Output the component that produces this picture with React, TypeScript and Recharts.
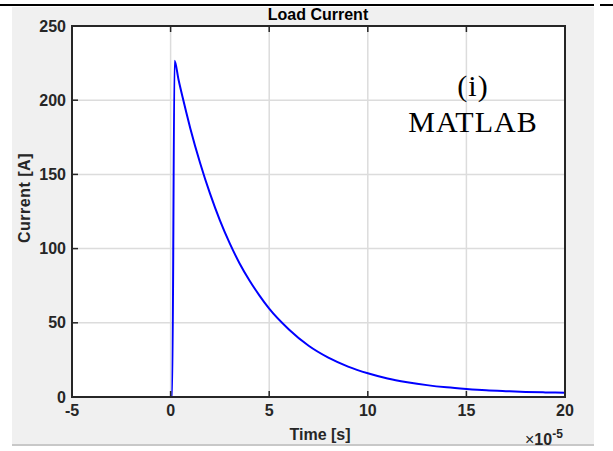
import { LineChart, Line, XAxis, YAxis, CartesianGrid } from 'recharts';

// time in units of 1e-5 s, current in A
const time = [-0.65, 0.08, 0.2, 0.4, 0.6, 0.8, 1.0, 1.5, 2.0, 2.5, 3.0, 3.5, 4.0, 4.5, 5.0, 6.0, 7.0, 8.0, 9.0, 10.0, 11.0, 12.0, 13.0, 14.0, 15.0, 16.0, 17.0, 18.0, 19.0, 20.0];
const current = [0, 0, 226.5, 214, 202.5, 191.5, 181, 157.5, 137, 119, 103.5, 90, 78.5, 68.5, 59.5, 45.5, 34.5, 26.5, 20.5, 16, 12.5, 10, 8, 6.5, 5.4, 4.5, 3.9, 3.4, 3.1, 2.8];
const xTicks = [-5, 0, 5, 10, 15, 20];
const yTicks = [0, 50, 100, 150, 200, 250];

const data = time.map((t, i) => ({ t, current: current[i] }));

const sans = '"Liberation Sans", Arial, Helvetica, sans-serif';
const axisColor = '#262626';
const TICK_LEN = 6;
const GAP = 8;

// MATLAB draws tick marks inward, so the tick renderers draw the marks themselves
const BottomTick = (props: any) => {
  const { x, y, payload } = props;
  const axisY = y - GAP;
  return (
    <g>
      <line x1={x} x2={x} y1={axisY} y2={axisY - TICK_LEN} stroke={axisColor} strokeWidth={1.5} />
      <text x={x} y={y} dy="0.71em" textAnchor="middle" fontFamily={sans} fontWeight={700} fontSize={16} fill={axisColor}>
        {payload.value}
      </text>
    </g>
  );
};

const LeftTick = (props: any) => {
  const { x, y, payload } = props;
  const axisX = x + GAP;
  return (
    <g>
      <line x1={axisX} x2={axisX + TICK_LEN} y1={y} y2={y} stroke={axisColor} strokeWidth={1.5} />
      <text x={x + 2} y={y} dy="0.355em" textAnchor="end" fontFamily={sans} fontWeight={700} fontSize={16} fill={axisColor}>
        {payload.value}
      </text>
    </g>
  );
};

const TopTick = (props: any) => (
  <line x1={props.x} x2={props.x} y1={props.y} y2={props.y + TICK_LEN} stroke={axisColor} strokeWidth={1.5} />
);

const RightTick = (props: any) => (
  <line x1={props.x} x2={props.x - TICK_LEN} y1={props.y} y2={props.y} stroke={axisColor} strokeWidth={1.5} />
);

export default function App() {
  return (
    <div style={{ position: 'absolute', left: 0, top: 0, width: 613, height: 451, background: '#fff', overflow: 'hidden' }}>
      <div style={{ position: 'absolute', left: 0, top: 4, width: 594, height: 2, background: '#000' }} />
      <div style={{ position: 'absolute', left: 600, top: 4, width: 13, height: 2, background: '#000' }} />
      <div style={{ position: 'absolute', left: 12, top: 7, width: 582, height: 437, background: '#f0f0f0', borderBottom: '2px solid #c8c8c8' }} />

      <div style={{ position: 'absolute', left: 0, top: 0 }}>
        <LineChart width={613} height={451} data={data} margin={{ top: 25, right: 47, bottom: 24, left: 22 }}>
          <CartesianGrid fill="#fff" stroke="#dcdcdc" strokeWidth={1.5} horizontalValues={yTicks} verticalValues={xTicks} />
          <XAxis
            type="number"
            dataKey="t"
            domain={[-5, 20]}
            ticks={xTicks}
            allowDataOverflow
            height={30}
            stroke={axisColor}
            strokeWidth={2}
            tickLine={false}
            tickSize={0}
            tickMargin={GAP}
            tick={<BottomTick />}
          />
          <XAxis
            xAxisId="top"
            orientation="top"
            type="number"
            dataKey="t"
            domain={[-5, 20]}
            ticks={xTicks}
            height={1}
            stroke={axisColor}
            strokeWidth={2}
            tickLine={false}
            tickSize={0}
            tickMargin={0}
            tick={<TopTick />}
          />
          <YAxis
            type="number"
            domain={[0, 250]}
            ticks={yTicks}
            allowDataOverflow
            width={50}
            stroke={axisColor}
            strokeWidth={2}
            tickLine={false}
            tickSize={0}
            tickMargin={GAP}
            tick={<LeftTick />}
          />
          <YAxis
            yAxisId="right"
            orientation="right"
            type="number"
            domain={[0, 250]}
            ticks={yTicks}
            width={1}
            stroke={axisColor}
            strokeWidth={2}
            tickLine={false}
            tickSize={0}
            tickMargin={0}
            tick={<RightTick />}
          />
          <Line
            type="monotone"
            dataKey="current"
            stroke="#0000ff"
            strokeWidth={2}
            dot={false}
            isAnimationActive={false}
          />
        </LineChart>
      </div>

      {/* axes box, dark on all four sides as in MATLAB */}
      <div style={{ position: 'absolute', left: 71, top: 25, width: 495, height: 373, boxSizing: 'border-box', border: `2px solid ${axisColor}`, pointerEvents: 'none' }} />

      <div style={{ position: 'absolute', left: 218, width: 200, top: 6, textAlign: 'center', fontFamily: sans, fontWeight: 700, fontSize: 16, color: '#000' }}>
        Load Current
      </div>
      <div style={{ position: 'absolute', left: 25 - 100, top: 198 - 10, width: 200, height: 20, lineHeight: '20px', textAlign: 'center', transform: 'rotate(-90deg)', fontFamily: sans, fontWeight: 700, fontSize: 16, letterSpacing: 0.5, color: axisColor }}>
        Current [A]
      </div>
      <div style={{ position: 'absolute', left: 220, width: 200, top: 426, textAlign: 'center', fontFamily: sans, fontWeight: 700, fontSize: 16, color: axisColor }}>
        Time [s]
      </div>
      <div style={{ position: 'absolute', left: 525, top: 428, fontFamily: sans, fontWeight: 700, fontSize: 16, color: axisColor, whiteSpace: 'nowrap' }}>
        <span style={{ fontWeight: 400 }}>×</span>10<sup style={{ fontSize: 12, position: 'relative', top: -1 }}>-5</sup>
      </div>
      <div style={{ position: 'absolute', left: 373, width: 200, top: 68, textAlign: 'center', fontFamily: '"Liberation Serif", "Times New Roman", serif', fontSize: 30, lineHeight: '36px', letterSpacing: 1, color: '#000' }}>
        (i)
        <br />
        MATLAB
      </div>
    </div>
  );
}
